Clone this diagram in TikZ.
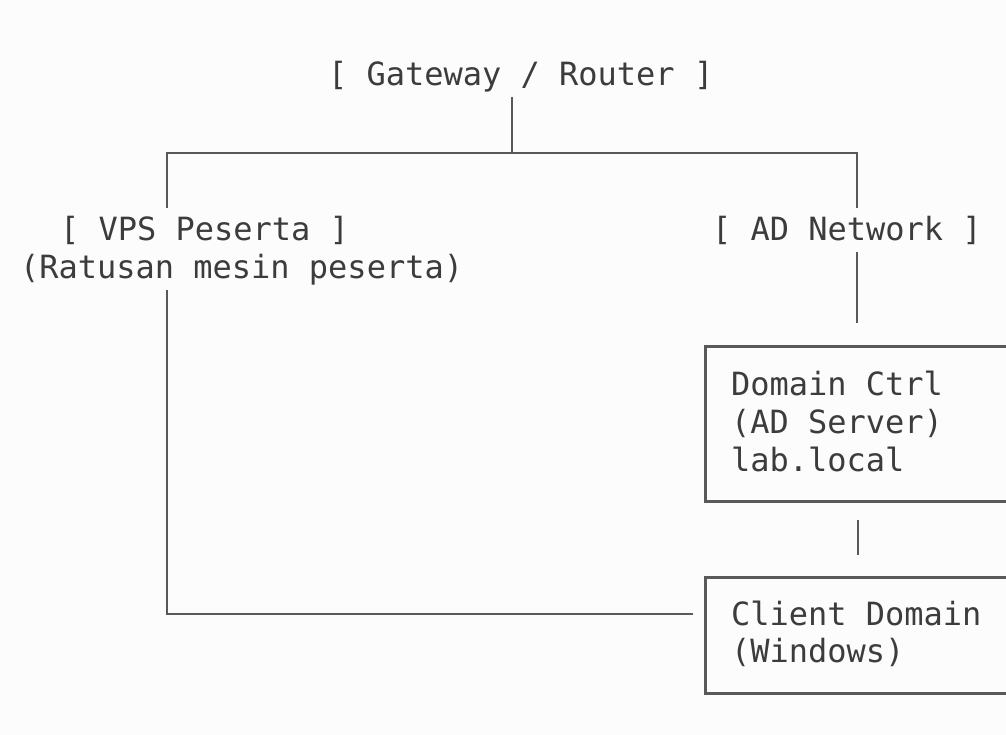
\documentclass[tikz,border=0pt]{standalone}
\usepackage{fontspec}
\setmonofont{DejaVu Sans Mono}
\definecolor{bgc}{HTML}{FCFCFC}
\definecolor{txt}{HTML}{3C3C3C}
\definecolor{ln}{HTML}{595959}
\tikzset{
  lbl/.style={anchor=base west, inner sep=0pt, outer sep=0pt, text=txt,
    font=\ttfamily\fontsize{32}{38}\selectfont},
  wire/.style={draw=ln, line width=2.6pt},
  boxn/.style={draw=ln, line width=2.6pt, anchor=north west, inner sep=0pt,
    minimum width=340pt}
}
\begin{document}
\begin{tikzpicture}[x=1pt,y=-1pt]
\fill[bgc] (0,0) rectangle (1006,735);
\useasboundingbox (0,0) rectangle (1006,735);

% texts
\node[lbl] (gw) at (328,86) {[ Gateway / Router ]};
\node[lbl] (vps) at (60,241) {[ VPS Peserta ]};
\node[lbl] (vps2) at (20,279) {(Ratusan mesin peserta)};
\node[lbl] (adn) at (712,241) {[ AD Network ]};

% boxes
\node[boxn, minimum height=155pt] (dc) at (704,345) {};
\node[boxn, minimum height=116pt] (cl) at (704,576) {};
\node[lbl] (dc1) at (731,395) {Domain Ctrl};
\node[lbl] (dc2) at (731,433) {(AD Server)};
\node[lbl] (dc3) at (731,471) {lab.local};
\node[lbl] (cl1) at (731,625) {Client Domain};
\node[lbl] (cl2) at (731,662) {(Windows)};

% junction coordinates
\coordinate (gwb) at (512,97);
\coordinate (jt) at (512,153);
\coordinate (tl) at (167,153);
\coordinate (tr) at (857,153);
\coordinate (vpsT) at (167,208);
\coordinate (vpsB) at (167,290);
\coordinate (bl) at (167,614);
\coordinate (clL) at (693,614);
\coordinate (adT) at (857,208);
\coordinate (adB) at (857,252);
\coordinate (adE) at (857,323);
\coordinate (dcB) at (858,520);
\coordinate (clT) at (858,555);

% connectors
\draw[wire] (gwb) -- (jt);
\draw[wire] (vpsT) -- (tl) -- (tr) -- (adT);
\draw[wire] (vpsB) -- (bl) -- (clL);
\draw[wire] (adB) -- (adE);
\draw[wire] (dcB) -- (clT);
\end{tikzpicture}
\end{document}
